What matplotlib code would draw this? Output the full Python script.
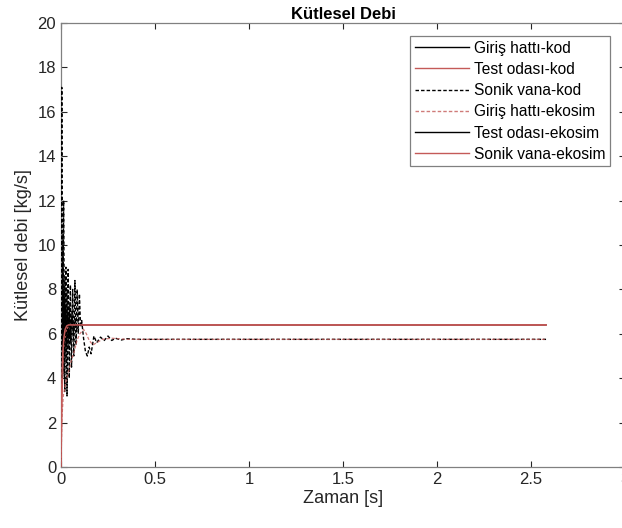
import matplotlib.pyplot as plt

plt.rcParams['font.family'] = ['Liberation Sans', 'DejaVu Sans']

kirmizi = '#c45a58'

# Giriş hattı-kod (siyah düz)
t_giris_kod = [0, 0.002, 0.006, 0.010, 0.015, 0.020, 0.026, 0.032, 0.038, 0.044,
               0.050, 0.058, 0.066, 0.075, 0.085, 0.10, 0.12, 2.58]
m_giris_kod = [0, 13.2, 5.0, 10.5, 4.2, 8.6, 4.8, 8.0, 5.3, 7.4,
               5.6, 7.0, 5.9, 6.7, 6.2, 6.45, 6.4, 6.4]

# Test odası-kod (kırmızı düz)
t_test_kod = [0, 0.004, 0.008, 0.012, 0.018, 0.025, 0.035, 0.05, 2.58]
m_test_kod = [0, 2.8, 4.0, 4.9, 5.6, 6.0, 6.3, 6.4, 6.4]

# Sonik vana-kod (siyah kesikli)
t_sonik_kod = [0, 0.004, 0.008, 0.014, 0.020, 0.026, 0.032, 0.038, 0.044, 0.050,
               0.056, 0.062, 0.068, 0.074, 0.080, 0.086, 0.092, 0.098, 0.104, 0.110,
               0.120, 0.130, 0.140, 0.150, 0.160, 0.175, 0.19, 0.21, 0.23, 0.25,
               0.27, 0.29, 0.32, 0.35, 0.40, 2.58]
m_sonik_kod = [0, 17.1, 4.0, 12.0, 3.4, 9.0, 3.2, 8.9, 4.0, 8.2,
               4.5, 8.0, 5.0, 8.4, 5.5, 8.0, 6.0, 7.8, 6.3, 6.6,
               5.8, 5.2, 5.0, 5.4, 5.1, 5.9, 5.6, 5.85, 5.7, 5.9,
               5.7, 5.8, 5.72, 5.78, 5.75, 5.75]

# Giriş hattı-ekosim (kırmızı kesikli)
t_giris_eko = [0, 0.005, 0.012, 0.025, 0.04, 0.055, 0.07, 0.085, 0.10, 0.12,
               0.135, 0.15, 0.17, 0.19, 0.22, 0.27, 0.35, 2.58]
m_giris_eko = [0, 2.2, 3.2, 3.8, 4.3, 4.8, 5.2, 5.7, 6.0, 6.2,
               6.0, 5.7, 5.5, 5.6, 5.75, 5.8, 5.75, 5.75]

# Test odası-ekosim (siyah düz)
t_test_eko = [0, 0.003, 0.007, 0.012, 0.018, 0.024, 0.030, 0.037, 0.045, 0.055,
              0.07, 0.09, 2.58]
m_test_eko = [0, 9.5, 4.5, 8.0, 5.0, 7.2, 5.4, 6.9, 5.8, 6.6, 6.3, 6.4, 6.4]

# Sonik vana-ekosim (kırmızı düz)
t_sonik_eko = [0, 0.003, 0.006, 0.010, 0.015, 0.022, 0.030, 0.04, 2.58]
m_sonik_eko = [0, 3.0, 4.3, 5.2, 5.8, 6.2, 6.35, 6.4, 6.4]

fig = plt.figure(figsize=(6.22, 5.28), dpi=100)
ax = fig.add_axes([61/622, 61/528, 564/622, 444/528])

ax.plot(t_giris_kod, m_giris_kod, color='black', lw=0.7, zorder=2, label='Giriş hattı-kod')
ax.plot(t_test_kod, m_test_kod, color=kirmizi, lw=1.1, zorder=3, label='Test odası-kod')
ax.plot(t_sonik_kod, m_sonik_kod, color='black', lw=1.0, ls=(0, (2.5, 1.5)), zorder=3, label='Sonik vana-kod')
ax.plot(t_giris_eko, m_giris_eko, color=kirmizi, lw=0.9, ls=(0, (2.5, 1.5)), alpha=0.8, zorder=3, label='Giriş hattı-ekosim')
ax.plot(t_test_eko, m_test_eko, color='black', lw=0.7, zorder=2, label='Test odası-ekosim')
ax.plot(t_sonik_eko, m_sonik_eko, color=kirmizi, lw=1.1, zorder=4, label='Sonik vana-ekosim')

ax.set_xlim(0, 3)
ax.set_ylim(0, 20)
ax.set_xticks([0, 0.5, 1, 1.5, 2, 2.5, 3])
ax.set_xticklabels(['0', '0.5', '1', '1.5', '2', '2.5', '3'])
ax.set_yticks(range(0, 21, 2))
ax.tick_params(direction='in', top=True, right=True, length=4, width=0.8,
               labelsize=12, colors='#262626')
for s in ax.spines.values():
    s.set_color('#808080')
    s.set_linewidth(0.9)

ax.set_xlabel('Zaman [s]', fontsize=13, color='#262626', labelpad=2)
ax.set_ylabel('Kütlesel debi [kg/s]', fontsize=13, color='#262626')
ax.set_title('Kütlesel Debi', fontsize=12, fontweight='bold', pad=3)

leg = ax.legend(loc='upper right', bbox_to_anchor=(610/622, 1 - 36/528),
                bbox_transform=fig.transFigure, fontsize=11.2, handlelength=3.5,
                fancybox=False, framealpha=1, edgecolor='#808080',
                borderpad=0.3, labelspacing=0.4, handletextpad=0.3, borderaxespad=0)
leg.get_frame().set_linewidth(0.9)
for line in leg.get_lines():
    line.set_linewidth(1.0)

fig.savefig('out.png', dpi=100)
